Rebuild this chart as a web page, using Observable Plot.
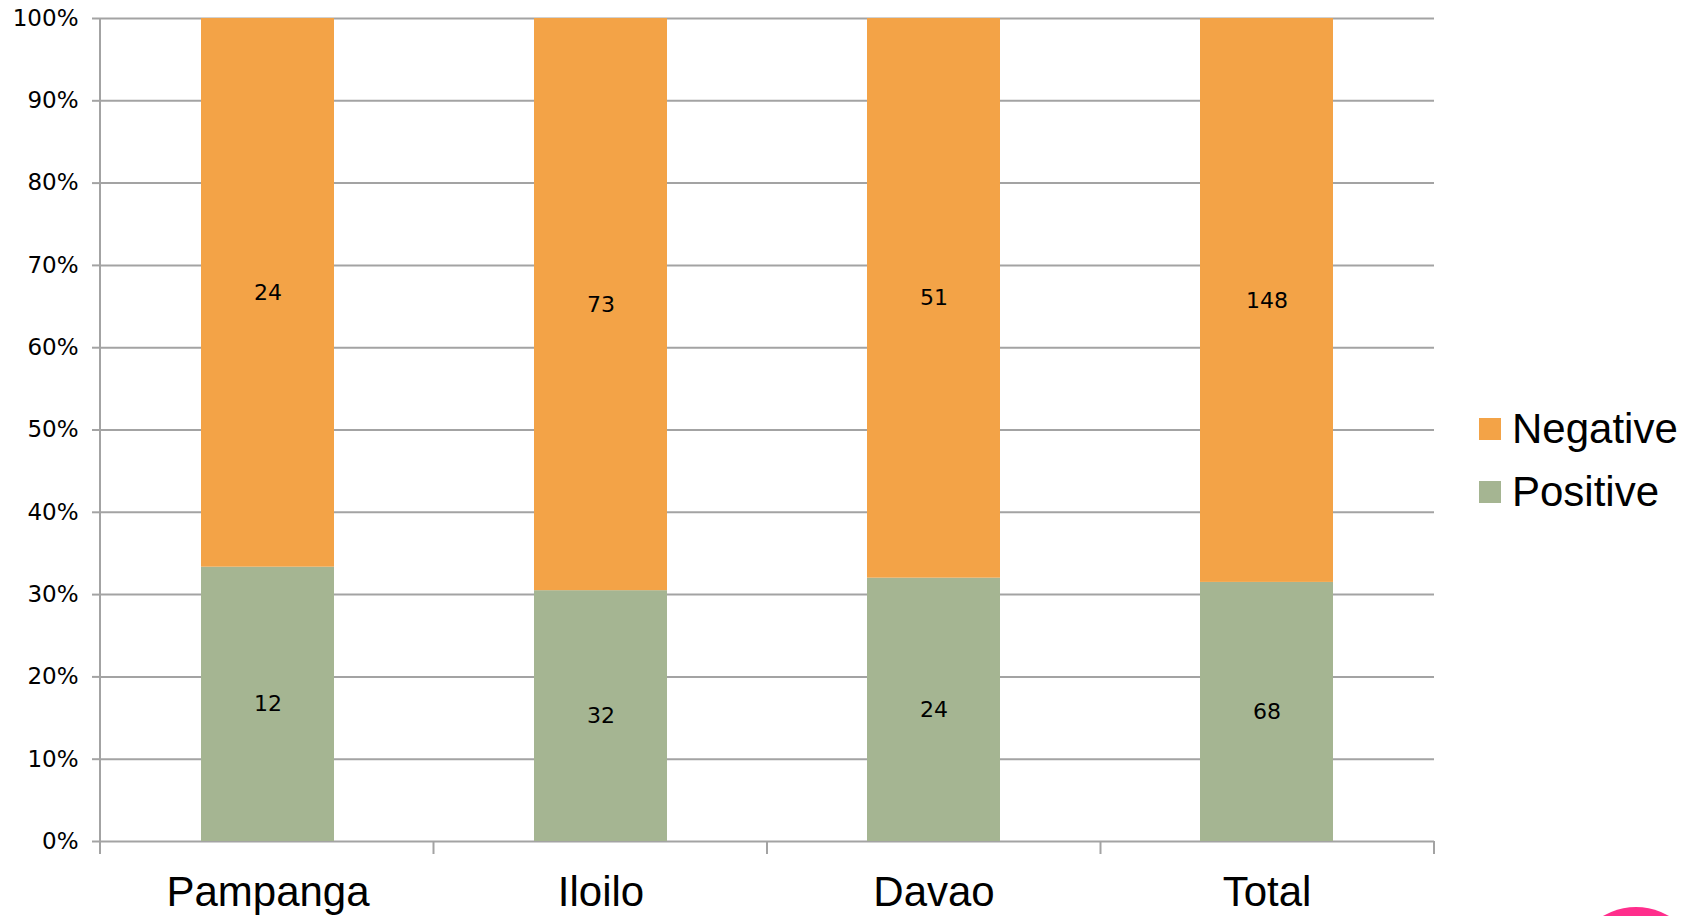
<!DOCTYPE html>
<html>
<head>
<meta charset="utf-8">
<script src="https://cdn.jsdelivr.net/npm/d3@7"></script>
<script src="https://cdn.jsdelivr.net/npm/@observablehq/plot@0.6"></script>
<style>
  body { margin: 0; background: #fff; overflow: hidden; }
  #wrap { position: relative; width: 1698px; height: 916px; overflow: hidden; }
  .legend { position: absolute; left: 1479px; top: 397px; font-family: "Liberation Sans", Arial, sans-serif; font-size: 42px; color: #000; }
  .legend .row { display: flex; align-items: center; height: 63px; }
  .legend .sw { width: 22px; height: 22px; margin-right: 11px; }
  .dot { position: absolute; left: 1571px; top: 907px; width: 130px; height: 130px; border-radius: 50%; background: #FF2E8C; }
</style>
</head>
<body>
<div id="wrap"></div>
<script>
// Test results by region
const categories = ["Pampanga", "Iloilo", "Davao", "Total"];
const positive = [12, 32, 24, 68];
const negative = [24, 73, 51, 148];
const seriesNames = ["Negative", "Positive"];
const seriesColors = ["#F3A347", "#A5B592"];
const yTicks = [0, 0.1, 0.2, 0.3, 0.4, 0.5, 0.6, 0.7, 0.8, 0.9, 1];

// Long table: positive rows first so they stack at the bottom
const rows = [
  ...categories.map((c, i) => ({category: c, series: "Positive", value: positive[i]})),
  ...categories.map((c, i) => ({category: c, series: "Negative", value: negative[i]}))
];

const W = 1698, H = 916;
const mL = 100, mR = 264, mT = 18, mB = 75;
const grey = "#A3A3A3";

const chart = Plot.plot({
  width: W,
  height: H,
  marginLeft: mL,
  marginRight: mR,
  marginTop: mT,
  marginBottom: mB,
  style: {background: "transparent", color: "#000", overflow: "visible"},
  x: {domain: categories, paddingInner: 0.6, paddingOuter: 0.3, label: null},
  y: {domain: [0, 1], label: null},
  color: {domain: seriesNames, range: seriesColors},
  marks: [
    Plot.gridY(yTicks, {stroke: grey, strokeOpacity: 1, strokeWidth: 2}),
    Plot.barY(rows, Plot.stackY({x: "category", y: "value", z: "series", fill: "series", offset: "normalize", order: null})),
    Plot.text(rows, Plot.stackY({x: "category", y: "value", z: "series", offset: "normalize", order: null, text: "value",
      fontSize: 22, fontFamily: "DejaVu Sans", fill: "#000"})),
    Plot.axisY(yTicks, {tickFormat: d3.format(".0%"), tickSize: 8, tickPadding: 14, stroke: grey, strokeWidth: 2,
      fontSize: 23, fontFamily: "DejaVu Sans", label: null}),
    Plot.axisX({tickSize: 0, tickPadding: 35, fontSize: 42, fontFamily: "Liberation Sans", label: null})
  ]
});

// Left axis line and category boundary ticks, placed from the x scale
const xs = chart.scale("x");
const x0 = xs.range[0], x1 = xs.range[1];
const step = (x1 - x0) / categories.length;
const svg = d3.select(chart.tagName === "svg" ? chart : chart.querySelector("svg"));
const yBase = H - mB;
const g = svg.append("g").attr("stroke", grey).attr("stroke-width", 2);
g.append("line").attr("x1", x0).attr("x2", x0).attr("y1", mT).attr("y2", yBase + 13);
d3.range(categories.length + 1).forEach(i => {
  const xp = x0 + i * step;
  g.append("line").attr("x1", xp).attr("x2", xp).attr("y1", yBase).attr("y2", yBase + 13);
});

const wrap = document.getElementById("wrap");
wrap.appendChild(chart);

// Legend (top series first)
const legend = document.createElement("div");
legend.className = "legend";
seriesNames.forEach((s, i) => {
  const row = document.createElement("div");
  row.className = "row";
  const sw = document.createElement("span");
  sw.className = "sw";
  sw.style.background = seriesColors[i];
  const lab = document.createElement("span");
  lab.textContent = s;
  row.appendChild(sw);
  row.appendChild(lab);
  legend.appendChild(row);
});
wrap.appendChild(legend);

const dot = document.createElement("div");
dot.className = "dot";
wrap.appendChild(dot);
</script>
</body>
</html>
